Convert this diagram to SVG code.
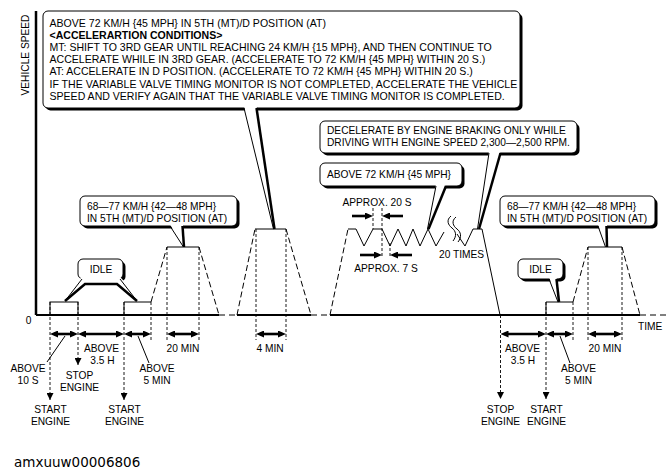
<svg xmlns="http://www.w3.org/2000/svg" width="672" height="476" viewBox="0 0 672 476">
<defs>
<style>
.t{font-family:"Liberation Sans",Arial,Helvetica,sans-serif;font-size:10.2px;fill:#000}
.big{font-size:10.55px}
.m{text-anchor:middle}
.b{font-weight:bold}
.thin{stroke:#000;stroke-width:1;fill:none}
.thk{stroke:#000;stroke-width:2.5;fill:none}
.dash{stroke:#000;stroke-width:0.9;stroke-dasharray:3 2;fill:none}
.slope{stroke:#000;stroke-width:1;stroke-dasharray:6 3;fill:none}
.base{stroke:#000;stroke-width:2;fill:none}
.basedash{stroke:#000;stroke-width:1;stroke-dasharray:6 4;fill:none}
.box{fill:#fff;stroke:#000;stroke-width:1}
.shd{fill:#000}
.wh{fill:#fff;stroke:none}
.dim{stroke:#000;stroke-width:2.6;fill:none;marker-start:url(#ah);marker-end:url(#ah)}
.one{stroke:#000;stroke-width:2.6;fill:none;marker-end:url(#ah)}
.drop{stroke:#000;stroke-width:0.9;stroke-dasharray:3 2;fill:none;marker-end:url(#dn)}
</style>
<marker id="ah" viewBox="0 0 8 7" refX="4" refY="3.5" markerWidth="8" markerHeight="7" markerUnits="userSpaceOnUse" orient="auto-start-reverse"><path d="M0,0 L8,3.5 L0,7 z" fill="#000"/></marker>
<marker id="dn" viewBox="0 0 7 7" refX="7" refY="3.5" markerWidth="7" markerHeight="7" markerUnits="userSpaceOnUse" orient="auto"><path d="M0,0 L7,3.5 L0,7 z" fill="#000"/></marker>
</defs>
<rect width="672" height="476" fill="#fff"/>

<!-- axes -->
<g id="axes">
<line x1="36" y1="11" x2="36" y2="315" stroke="#000" stroke-width="2.5"/>
<path class="base" d="M36,315 H219 M237,315 H311 M330,315 H640"/>
<path class="basedash" d="M219,315 H237 M311,315 H330 M640,315 H666"/>
<text class="t m" transform="translate(29,55) rotate(-90)">VEHICLE SPEED</text>
<text class="t m" x="28.5" y="323.5">0</text>
<text class="t" x="638" y="329.5">TIME</text>
</g>

<!-- speed profile -->
<g id="profile">
<rect class="thin" x="50" y="302" width="28" height="13"/>
<path class="thin" d="M124,315 V302 H151"/>
<path class="slope" d="M151,302 L167,247"/>
<path class="thin" d="M167,247 H199"/>
<path class="slope" d="M199,247 L219,315"/>
<path class="slope" d="M237,315 L255,229"/>
<path class="thin" d="M255,229 H286"/>
<path class="slope" d="M286,229 L311,315"/>
<path class="slope" d="M330,315 L348,229"/>
<path class="thin" d="M348,229 L356,229 L364,246 L373,229 L382,229 L390,246 L398,229 L406,246 L413,229 L420,246 L428,229 L436,246 L444,232"/>
<path class="thin" d="M457,234 L465,246 L473,229 L482,229 L500,315"/>
<path class="thin" d="M451,216 c-5,4 -3,9 1,12 c4,3 5,8 1,13 M456,217 c-5,4 -3,9 1,12 c4,3 5,8 1,13"/>
<path class="thin" d="M546,315 V302 H573"/>
<path class="slope" d="M573,302 L588,247"/>
<path class="thin" d="M588,247 H622"/>
<path class="slope" d="M622,247 L640,315"/>
<text class="t" x="439" y="258">20 TIMES</text>
</g>

<!-- callouts -->
<g id="callout-main">
<rect class="shd" x="45.5" y="13.5" width="477" height="97" rx="5"/>
<rect class="box" x="43" y="11" width="477" height="97" rx="5"/>
<polygon class="wh" points="244,106 256.5,106 274.5,229 273.5,229"/>
<line class="thin" x1="244" y1="108" x2="273.5" y2="229"/>
<line class="thk" x1="256.5" y1="108" x2="274.5" y2="229"/>
<text class="t big" x="49.5" y="26.5">ABOVE 72 KM/H {45 MPH} IN 5TH (MT)/D POSITION (AT)</text>
<text class="t big b" x="49.5" y="38.7">&lt;ACCELERARTION CONDITIONS&gt;</text>
<text class="t big" x="49.5" y="51">MT: SHIFT TO 3RD GEAR UNTIL REACHING 24 KM/H {15 MPH}, AND THEN CONTINUE TO</text>
<text class="t big" x="49.5" y="63.2">ACCELERATE WHILE IN 3RD GEAR. (ACCELERATE TO 72 KM/H {45 MPH} WITHIN 20 S.)</text>
<text class="t big" x="49.5" y="75.4">AT: ACCELERATE IN D POSITION. (ACCELERATE TO 72 KM/H {45 MPH} WITHIN 20 S.)</text>
<text class="t big" x="49.5" y="87.6">IF THE VARIABLE VALVE TIMING MONITOR IS NOT COMPLETED, ACCELERATE THE VEHICLE</text>
<text class="t big" x="49.5" y="99.8">SPEED AND VERIFY AGAIN THAT THE VARIABLE VALVE TIMING MONITOR IS COMPLETED.</text>
</g>

<g id="callout-speed-left">
<rect class="shd" x="82.5" y="198.5" width="157" height="30" rx="5"/>
<rect class="box" x="80" y="196" width="157" height="30" rx="5"/>
<polygon class="wh" points="170,224.5 183,224.5 184,247 183.5,247"/>
<line class="thin" x1="170" y1="226" x2="183.5" y2="247"/>
<line class="thk" x1="182.5" y1="226" x2="184" y2="247"/>
<text class="t" x="87" y="209.5">68—77 KM/H {42—48 MPH}</text>
<text class="t" x="87" y="221.5">IN 5TH (MT)/D POSITION (AT)</text>
</g>

<g id="callout-idle-left">
<rect class="shd" x="80.5" y="261.5" width="45" height="20" rx="5"/>
<rect class="box" x="78" y="259" width="45" height="20" rx="5"/>
<polygon class="wh" points="82,277 65,301 85,284 117,284 137,301 120,277"/>
<polygon class="wh" points="82,277 120,277 127,284 75,284"/>
<line class="thin" x1="82" y1="279" x2="65" y2="301"/>
<line class="thin" x1="120" y1="279" x2="137" y2="301"/>
<path class="thk" d="M65,301 L85,284 H117 L137,301"/>
<text class="t m" x="101" y="273">IDLE</text>
</g>

<g id="callout-decel">
<rect class="shd" x="322.5" y="123.5" width="257" height="32" rx="5"/>
<rect class="box" x="320" y="121" width="257" height="32" rx="5"/>
<polygon class="wh" points="489,151 500.5,151 479,229 477.5,229"/>
<line class="thin" x1="489" y1="153" x2="477.5" y2="229"/>
<line class="thk" x1="500.5" y1="153" x2="479" y2="229"/>
<text class="t" x="327" y="133.5">DECELERATE BY ENGINE BRAKING ONLY WHILE</text>
<text class="t" x="327" y="145.5">DRIVING WITH ENGINE SPEED 2,300—2,500 RPM.</text>
</g>

<g id="callout-above72">
<rect class="shd" x="322.5" y="165.5" width="142" height="23" rx="5"/>
<rect class="box" x="320" y="163" width="142" height="23" rx="5"/>
<polygon class="wh" points="436,184 446,184 428.5,229 427.5,229"/>
<line class="thin" x1="436" y1="186" x2="427.5" y2="229"/>
<line class="thk" x1="446" y1="186" x2="428.5" y2="229"/>
<text class="t" x="327" y="177.5">ABOVE 72 KM/H {45 MPH}</text>
</g>

<g id="callout-idle-right">
<rect class="shd" x="520.5" y="261.5" width="45" height="20" rx="5"/>
<rect class="box" x="518" y="259" width="45" height="20" rx="5"/>
<polygon class="wh" points="549,277 556.5,277 559,302 558,302"/>
<line class="thin" x1="549" y1="279" x2="558" y2="302"/>
<line class="thk" x1="556.5" y1="279" x2="559" y2="302"/>
<text class="t m" x="540.5" y="273">IDLE</text>
</g>

<g id="callout-speed-right">
<rect class="shd" x="502.5" y="198.5" width="155" height="30" rx="5"/>
<rect class="box" x="500" y="196" width="155" height="30" rx="5"/>
<polygon class="wh" points="598,224.5 607,224.5 607,247 605.5,247"/>
<line class="thin" x1="598" y1="226" x2="605.5" y2="247"/>
<line class="thk" x1="606.5" y1="226" x2="607" y2="247"/>
<text class="t" x="507" y="209.5">68—77 KM/H {42—48 MPH}</text>
<text class="t" x="507" y="221.5">IN 5TH (MT)/D POSITION (AT)</text>
</g>

<!-- connectors: extension lines, dimensions, leaders -->
<g id="connectors">
<path class="drop" d="M50,302 V400"/>
<path class="drop" d="M78,302 V365"/>
<path class="drop" d="M124,302 V400"/>
<path class="dash" d="M151,302 V340 M167,247 V340 M199,247 V340 M256,229 V340 M286,229 V340 M573,302 V340 M588,247 V340 M622,247 V340"/>
<path class="drop" d="M500.5,315 V399"/>
<path class="drop" d="M546,302 V399"/>
<path class="dash" d="M373,208 V229 M382,208 V258 M390,243 V258"/>
<line class="dim" x1="54" y1="334" x2="74" y2="334"/>
<line class="dim" x1="82" y1="334" x2="120" y2="334"/>
<line class="dim" x1="128" y1="334" x2="147" y2="334"/>
<line class="dim" x1="171" y1="334" x2="195" y2="334"/>
<line class="dim" x1="260" y1="334" x2="282" y2="334"/>
<line class="dim" x1="504.5" y1="334" x2="542" y2="334"/>
<line class="dim" x1="550" y1="334" x2="569" y2="334"/>
<line class="dim" x1="592" y1="334" x2="618" y2="334"/>
<line class="one" x1="352" y1="216" x2="369" y2="216"/>
<line class="one" x1="403" y1="216" x2="386" y2="216"/>
<line class="one" x1="360" y1="255" x2="378" y2="255"/>
<line class="one" x1="412" y1="255" x2="394" y2="255"/>
<line class="thin" x1="65" y1="336" x2="47" y2="362"/>
<line class="thin" x1="138" y1="336" x2="149" y2="363"/>
<line class="thin" x1="560" y1="336" x2="570" y2="363"/>
</g>

<!-- labels -->
<g id="labels">
<text class="t m" x="377" y="206">APPROX. 20 S</text>
<text class="t m" x="386" y="272">APPROX. 7 S</text>
<text class="t m"><tspan x="28" y="372">ABOVE</tspan><tspan x="28" y="384">10 S</tspan></text>
<text class="t m"><tspan x="79.5" y="378.5">STOP</tspan><tspan x="79.5" y="391">ENGINE</tspan></text>
<text class="t m"><tspan x="50.5" y="412.5">START</tspan><tspan x="50.5" y="424.5">ENGINE</tspan></text>
<text class="t m"><tspan x="101.5" y="351.5">ABOVE</tspan><tspan x="102.5" y="363.5">3.5 H</tspan></text>
<text class="t m"><tspan x="124.5" y="412.5">START</tspan><tspan x="124.5" y="424.5">ENGINE</tspan></text>
<text class="t m"><tspan x="157" y="372">ABOVE</tspan><tspan x="157" y="384">5 MIN</tspan></text>
<text class="t m" x="183" y="351.5">20 MIN</text>
<text class="t m" x="270" y="351.5">4 MIN</text>
<text class="t m"><tspan x="522.5" y="351.5">ABOVE</tspan><tspan x="523" y="363.5">3.5 H</tspan></text>
<text class="t m"><tspan x="500.5" y="412.5">STOP</tspan><tspan x="500.5" y="424.5">ENGINE</tspan></text>
<text class="t m"><tspan x="546.5" y="412.5">START</tspan><tspan x="546.5" y="424.5">ENGINE</tspan></text>
<text class="t m"><tspan x="578.5" y="372">ABOVE</tspan><tspan x="578.5" y="384">5 MIN</tspan></text>
<text class="t m" x="605" y="351.5">20 MIN</text>
<text x="14" y="466.5" style="font-family:'DejaVu Sans',Verdana,sans-serif;font-size:13.5px;fill:#000">amxuuw00006806</text>
</g>
</svg>
